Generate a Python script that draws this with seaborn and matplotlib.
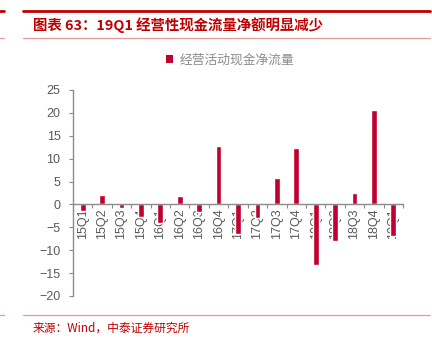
import matplotlib
matplotlib.use("Agg")
import matplotlib.pyplot as plt
from matplotlib.patches import Patch
from matplotlib.lines import Line2D
from matplotlib.ticker import FixedLocator
import seaborn as sns
import pandas as pd

# Quarterly net operating cash flow
quarters = ["15Q1", "15Q2", "15Q3", "15Q4", "16Q1", "16Q2", "16Q3", "16Q4",
            "17Q1", "17Q2", "17Q3", "17Q4", "18Q1", "18Q2", "18Q3", "18Q4", "19Q1"]
net_cash_flow = [-1.5, 2.0, -0.7, -2.7, -4.1, 1.8, -1.7, 12.8,
                 -6.5, -3.0, 5.7, 12.3, -13.2, -7.9, 2.6, 20.6, -7.0]
y_ticks = [-20, -15, -10, -5, 0, 5, 10, 15, 20, 25]

series_name = "经营活动现金净流量"
title_text = "图表 63：19Q1 经营性现金流量净额明显减少"
source_text = "来源：Wind，中泰证券研究所"

BAR_RED = "#C0002F"
TITLE_RED = "#C00000"
PINK = "#E59A9A"
AXIS_GREY = "#8C8C8C"
TEXT_GREY = "#595959"

sns.set_theme(style="white")
plt.rcParams["font.family"] = ["Liberation Sans", "Noto Sans CJK SC", "DejaVu Sans"]

df = pd.DataFrame({"quarter": quarters, "value": net_cash_flow})

fig = plt.figure(figsize=(4.32, 3.43), dpi=100)
ax = fig.add_axes([73 / 432, 1 - 296 / 343, 330 / 432, 206 / 343])

sns.barplot(data=df, x="quarter", y="value", color=BAR_RED, width=0.3,
            saturation=1, ax=ax)

ax.set_ylim(-20, 25)
ax.set_xlim(-0.5, len(quarters) - 0.5)
ax.set_yticks(y_ticks)
ax.set_xlabel("")
ax.set_ylabel("")

for side in ("top", "right"):
    ax.spines[side].set_visible(False)
ax.spines["bottom"].set_position(("data", 0))
for side in ("left", "bottom"):
    ax.spines[side].set_color(AXIS_GREY)
    ax.spines[side].set_linewidth(1.0)

ax.tick_params(axis="y", which="major", direction="out", length=3, width=0.8,
               color=AXIS_GREY, labelcolor=TEXT_GREY, labelsize=9, pad=6, left=True)
ax.tick_params(axis="x", which="major", length=0, labelcolor=TEXT_GREY,
               labelsize=9, pad=3, labelrotation=90)
ax.xaxis.set_minor_locator(FixedLocator([i + 0.5 for i in range(-1, len(quarters))]))
ax.tick_params(axis="x", which="minor", direction="out", length=3, width=0.8,
               color=AXIS_GREY, bottom=True)
for lbl in ax.get_xticklabels():
    lbl.set_va("top")
    lbl.set_ha("center")

# Legend
fig.legend(handles=[Patch(facecolor=BAR_RED, edgecolor="none", label=series_name)],
           loc="center", bbox_to_anchor=(230 / 432, 1 - 60 / 343), frameon=False,
           handlelength=0.6, handleheight=0.6, handletextpad=0.5,
           prop={"family": ["Noto Sans CJK SC"], "size": 9.2}, labelcolor="#8C8C8C")

# Header and footer rules
def hline(y_px, x0, x1, color, lw):
    fig.add_artist(Line2D([x0 / 432, x1 / 432], [1 - y_px / 343] * 2,
                          color=color, linewidth=lw, transform=fig.transFigure))

hline(11, 23, 430, TITLE_RED, 2.0)
hline(11, 0, 4, TITLE_RED, 2.0)
hline(38, 23, 430, PINK, 0.9)
hline(38, 0, 4, PINK, 0.9)
hline(315, 23, 430, PINK, 0.9)
hline(315, 0, 4, PINK, 0.9)

fig.text(33 / 432, 1 - 25 / 343, title_text, color=TITLE_RED, fontsize=10.4,
         fontweight="bold", va="center", ha="left",
         family=["Noto Sans CJK SC", "DejaVu Sans"])
fig.text(33 / 432, 1 - 328 / 343, source_text, color=TITLE_RED, fontsize=8.5,
         va="center", ha="left", family=["Noto Sans CJK SC", "DejaVu Sans"])

fig.savefig("out.png", dpi=100)
